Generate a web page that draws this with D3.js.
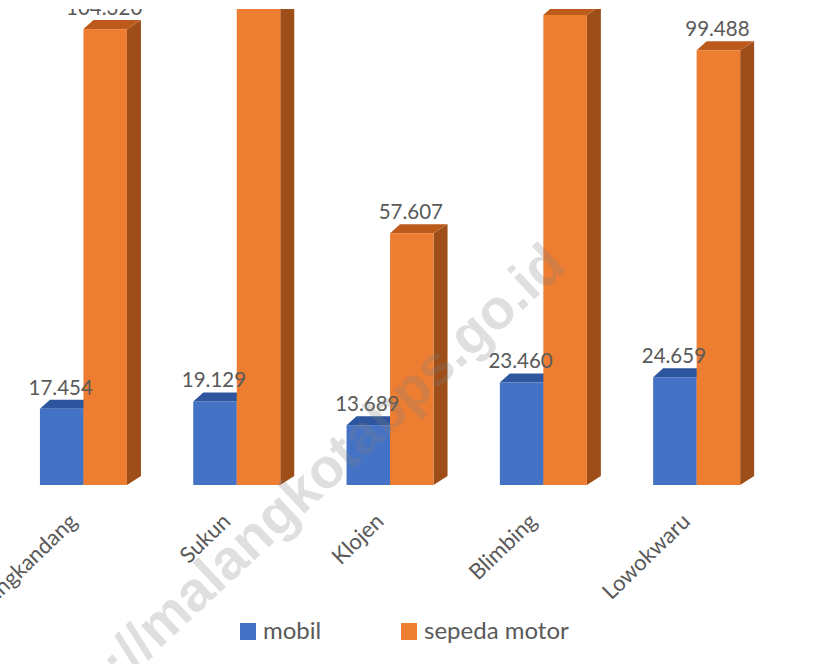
<!DOCTYPE html>
<html>
<head>
<meta charset="utf-8">
<script src="https://cdn.jsdelivr.net/npm/d3@7"></script>
<style>
  html, body { margin: 0; padding: 0; background: #fff; }
  svg { display: block; }
</style>
</head>
<body>
<svg id="chart" width="824" height="664"></svg>
<script>
// ---- data ----
const categories = ["Kedungkandang", "Sukun", "Klojen", "Blimbing", "Lowokwaru"];
const seriesNames = ["mobil", "sepeda motor"];
const mobil = [17454, 19129, 13689, 23460, 24659];
const sepedaMotor = [104320, 115000, 57607, 107560, 99488];
const seriesColors = {
  "mobil": { front: "#4472C4", top: "#2E569E", side: "#2A4F91" },
  "sepeda motor": { front: "#ED7D31", top: "#BC5A1B", side: "#9E4E18" }
};
const watermarkText = "http://malangkotabps.go.id";

// ---- setup ----
const W = 824, H = 664;
const svg = d3.select("#chart");
const fmt = d3.formatLocale({ decimal: ",", thousands: ".", grouping: [3], currency: ["", ""] }).format(",d");

const x = d3.scaleBand().domain(categories).range([6.8, 773.3]).paddingInner(0.4325).paddingOuter(0.21625);
const xs = d3.scaleBand().domain(seriesNames).range([0, x.bandwidth()]).padding(0);
const y = d3.scaleLinear().domain([0, 100000]).range([485, 48]);

const dxL = 10, dxR = 14, dy = -9;

svg.append("defs").append("clipPath").attr("id", "plotclip")
  .append("rect").attr("x", 0).attr("y", 9).attr("width", W).attr("height", H - 9);

const plot = svg.append("g").attr("clip-path", "url(#plotclip)");
const barLayer = plot.append("g");
const labelLayer = plot.append("g");

const rows = categories.map((c, i) => ({
  cat: c,
  vals: [ { s: "mobil", v: mobil[i] }, { s: "sepeda motor", v: sepedaMotor[i] } ]
}));

const groups = barLayer.selectAll("g.cat").data(rows).join("g").attr("class", "cat")
  .attr("transform", d => `translate(${x(d.cat)},0)`);

const bars = groups.selectAll("g.bar").data(d => d.vals).join("g").attr("class", "bar");

bars.each(function(d) {
  const g = d3.select(this);
  const x0 = xs(d.s), w = xs.bandwidth();
  const yt = y(d.v), yb = y(0);
  const c = seriesColors[d.s];
  g.append("polygon")
    .attr("points", [[x0 + w, yt], [x0 + w + dxR, yt + dy], [x0 + w + dxR, yb + dy], [x0 + w, yb]].map(p => p.join(",")).join(" "))
    .attr("fill", c.side);
  g.append("polygon")
    .attr("points", [[x0, yt], [x0 + w, yt], [x0 + w + dxR, yt + dy], [x0 + dxL, yt + dy]].map(p => p.join(",")).join(" "))
    .attr("fill", c.top);
  g.append("rect")
    .attr("x", x0).attr("y", yt).attr("width", w).attr("height", yb - yt)
    .attr("fill", c.front);
});

// value labels (on top of all bars)
const flat = rows.flatMap(r => r.vals.map(v => ({ cat: r.cat, s: v.s, v: v.v })));
labelLayer.selectAll("text").data(flat).join("text")
  .attr("x", d => x(d.cat) + xs(d.s) + xs.bandwidth() / 2 - 1)
  .attr("y", d => y(d.v) - 14)
  .attr("text-anchor", "middle")
  .attr("font-family", "Lato, 'Noto Sans', sans-serif")
  .attr("font-size", 20.5)
  .attr("fill", "#595959")
  .text(d => fmt(d.v));

// category labels
svg.append("g").selectAll("text").data(categories).join("text")
  .attr("transform", d => `translate(${x(d) + x.bandwidth() / 2 - 5},523) rotate(-44)`)
  .attr("text-anchor", "end")
  .attr("font-family", "Lato, 'Noto Sans', sans-serif")
  .attr("font-size", 22)
  .attr("fill", "#595959")
  .text(d => d);

// legend
const legendX = [240, 401];
const lg = svg.append("g").selectAll("g").data(seriesNames).join("g")
  .attr("transform", (d, i) => `translate(${legendX[i]},623)`);
lg.append("rect").attr("width", 16).attr("height", 17).attr("fill", d => seriesColors[d].front);
lg.append("text").attr("x", 23).attr("y", 16)
  .attr("font-family", "Lato, 'Noto Sans', sans-serif")
  .attr("font-size", 24)
  .attr("fill", "#595959")
  .text(d => d);

// watermark
svg.append("text")
  .attr("transform", "translate(568,268) rotate(-43)")
  .attr("text-anchor", "end")
  .attr("font-family", "'Liberation Sans', Arial, sans-serif")
  .attr("font-weight", "bold")
  .attr("font-size", 56)
  .attr("fill", "#808080")
  .attr("fill-opacity", 0.25)
  .text(watermarkText);
</script>
</body>
</html>
